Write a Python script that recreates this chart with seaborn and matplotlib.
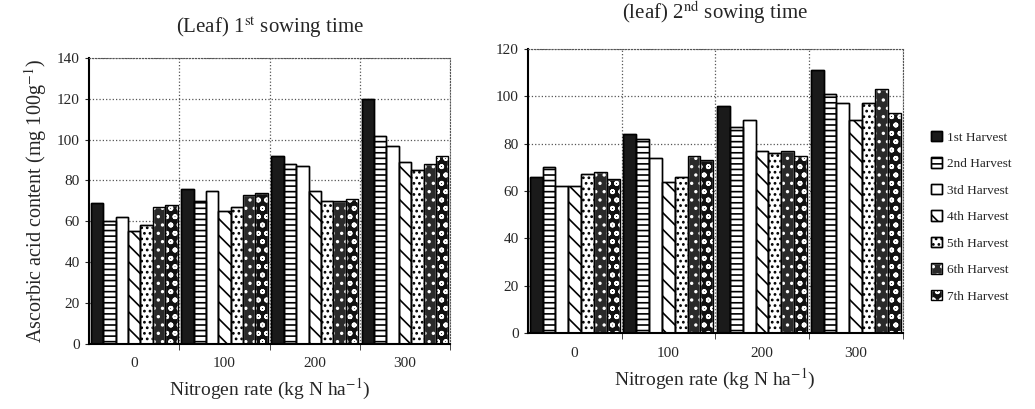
import pandas as pd
import matplotlib.pyplot as plt
import seaborn as sns
from matplotlib.patches import Patch
from matplotlib.legend_handler import HandlerTuple

# Data
rates = ["0", "100", "200", "300"]
harvests = ["1st Harvest", "2nd Harvest", "3td Harvest", "4th Harvest",
            "5th Harvest", "6th Harvest", "7th Harvest"]

# rows = harvest, columns = nitrogen rate
sow1 = [
    [69, 76, 92, 120],
    [60, 70, 88, 102],
    [62, 75, 87, 97],
    [55, 65, 75, 89],
    [58, 67, 70, 85],
    [67, 73, 70, 88],
    [68, 74, 71, 92],
]
sow2 = [
    [66, 84, 96, 111],
    [70, 82, 87, 101],
    [62, 74, 90, 97],
    [62, 64, 77, 90],
    [67, 66, 76, 97],
    [68, 75, 77, 103],
    [65, 73, 75, 93],
]


def to_frame(values):
    rows = []
    for h, vals in zip(harvests, values):
        for r, v in zip(rates, vals):
            rows.append({"rate": r, "harvest": h, "value": v})
    return pd.DataFrame(rows)


sns.set_style("white")
plt.rcParams['font.family'] = ['Liberation Serif', 'DejaVu Serif']
plt.rcParams['mathtext.fontset'] = 'stix'
plt.rcParams['hatch.linewidth'] = 1.2

# fill colour, hatch pattern, hatch colour for each harvest
styles = [
    ("#1a1a1a", "", "black"),
    ("white", "---", "black"),
    ("white", "", "black"),
    ("white", "\\\\", "black"),
    ("white", "...", "black"),
    ("#2a2a2a", "..", "white"),
    ("#111111", "oo", "white"),
]

fig = plt.figure(figsize=(10.35, 4.09), dpi=100)
ax1 = fig.add_axes([0.086, 0.16, 0.349, 0.698])
ax2 = fig.add_axes([0.510, 0.186, 0.362, 0.694])


def draw(ax, values, ymax, title, title_pad):
    df = to_frame(values)
    sns.barplot(data=df, x="rate", y="value", hue="harvest", ax=ax,
                order=rates, hue_order=harvests, width=0.96,
                edgecolor="black", linewidth=1.0, legend=False,
                palette=["white"] * 7, errorbar=None)
    for cont, (fc, hatch, hc) in zip(ax.containers, styles):
        for bar in cont:
            bar.set_facecolor(fc)
            bar.set_hatch(hatch)
            bar.set_edgecolor(hc)
            # outline on top so hatch colour can differ from the border
            ax.add_patch(plt.Rectangle(bar.get_xy(), bar.get_width(),
                                       bar.get_height(), fill=False,
                                       edgecolor="black", linewidth=1.0,
                                       zorder=3))
    ax.set_xlim(-0.5, 3.5)
    ax.set_ylim(0, ymax)
    ax.set_yticks(range(0, ymax + 1, 20))
    ax.set_xticks([0.5, 1.5, 2.5, 3.5], minor=True)
    ax.grid(True, axis="y", linestyle=":", color="#555555", linewidth=0.9)
    ax.grid(True, axis="x", which="minor", linestyle=":", color="#555555",
            linewidth=0.9)
    ax.set_axisbelow(True)
    ax.tick_params(axis="x", which="major", length=0, labelsize=11, pad=10)
    ax.tick_params(axis="x", which="minor", length=4, direction="out",
                   bottom=True)
    ax.tick_params(axis="y", labelsize=11, length=3, left=True)
    ax.set_xlabel("Nitrogen rate (kg N ha$^{-1}$)", fontsize=14, labelpad=5)
    ax.set_ylabel("")
    ax.set_title(title, fontsize=15, pad=title_pad)
    for s in ["top", "right"]:
        ax.spines[s].set_linestyle(":")
        ax.spines[s].set_color("#555555")
    for s in ["left", "bottom"]:
        ax.spines[s].set_color("black")
        ax.spines[s].set_linewidth(1.5)


draw(ax1, sow1, 140, "(Leaf) 1$^{\\rm st}$ sowing time", 18)
draw(ax2, sow2, 120, "(leaf) 2$^{\\rm nd}$ sowing time", 22)
ax1.set_ylabel("Ascorbic acid content (mg 100g$^{-1}$)", fontsize=14.5,
               labelpad=6)

handles = []
for h, (fc, hatch, hc) in zip(harvests, styles):
    fill = Patch(facecolor=fc, hatch=hatch, edgecolor=hc)
    border = Patch(facecolor="none", edgecolor="black")
    handles.append((fill, border))
fig.legend(handles=handles, labels=harvests, loc="center left",
           bbox_to_anchor=(0.888, 0.47), frameon=False, fontsize=9.5,
           handlelength=0.8, handleheight=0.8, labelspacing=1.05,
           handletextpad=0.4, handler_map={tuple: HandlerTuple(ndivide=1)})

fig.savefig("out.png", dpi=100)
